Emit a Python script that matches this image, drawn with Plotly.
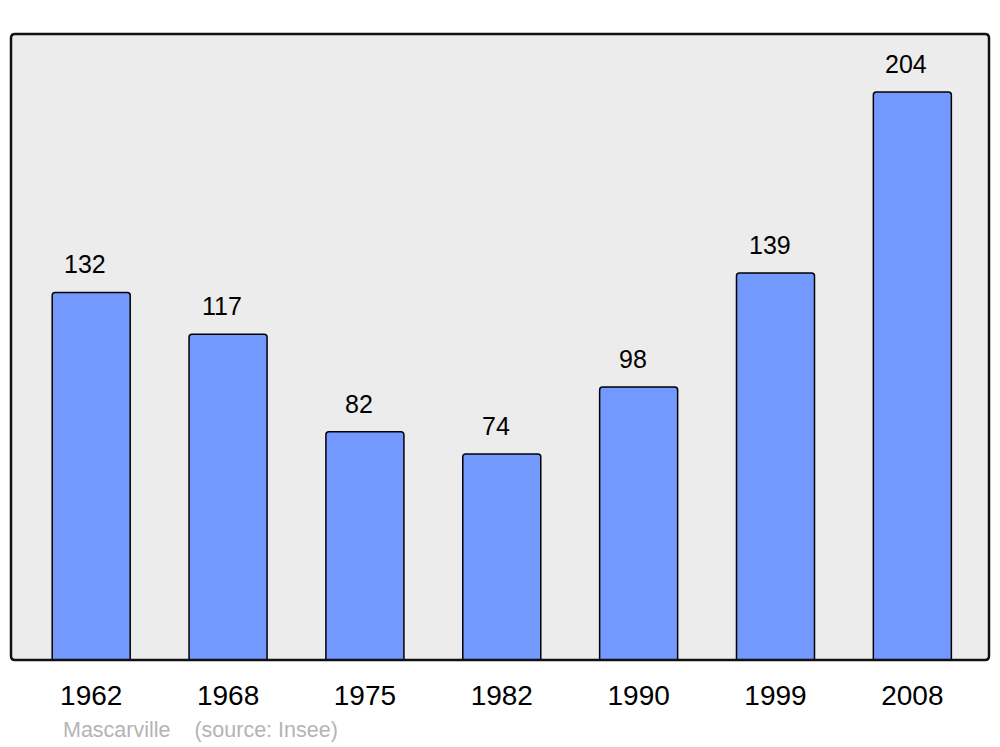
import plotly.graph_objects as go

years = ["1962", "1968", "1975", "1982", "1990", "1999", "2008"]
population = [132, 117, 82, 74, 98, 139, 204]
subtitle = "Mascarville    (source: Insee)"

W, H = 1000, 747
ML, MR, MT, MB = 11, 11, 34, 87
pw, ph = W - ML - MR, H - MT - MB

xs = list(range(len(years)))

fig = go.Figure()
fig.add_trace(go.Bar(
    x=xs, y=population, width=0.57,
    marker=dict(color="#7399ff", line=dict(color="#000000", width=1.5), cornerradius=3),
    hoverinfo="skip",
))

for x, v in zip(xs, population):
    fig.add_annotation(x=x, y=v, xref="x", yref="y", text=str(v), showarrow=False,
                       yshift=28, xshift=-6,
                       font=dict(family="Liberation Sans, Arial", size=25, color="#000"))

fig.add_annotation(x=(61 - ML) / pw, y=(H - MB - 730) / ph, xref="paper", yref="paper",
                   xanchor="left", yanchor="middle", text=subtitle, showarrow=False,
                   font=dict(family="Liberation Sans, Arial", size=21.5, color="#b4b4b4"))

# rounded frame around the plot area (paper coords)
rx, ry = 4 / pw, 4 / ph
path = (f"M {rx},0 L {1-rx},0 Q 1,0 1,{ry} L 1,{1-ry} Q 1,1 {1-rx},1 "
        f"L {rx},1 Q 0,1 0,{1-ry} L 0,{ry} Q 0,0 {rx},0 Z")
fig.add_shape(type="path", path=path, xref="paper", yref="paper",
              line=dict(color="#111111", width=2.5), layer="above")

fig.update_layout(
    width=W, height=H,
    margin=dict(l=ML, r=MR, t=MT, b=MB),
    paper_bgcolor="white", plot_bgcolor="#ececec",
    showlegend=False,
    font=dict(family="Liberation Sans, Arial", color="#000"),
    xaxis=dict(range=[-0.586, 6.560], tickvals=xs, ticktext=years,
               showgrid=False, zeroline=False, showline=False,
               ticks="", ticklabelstandoff=16,
               tickfont=dict(size=28, color="#000")),
    yaxis=dict(range=[0, 224.8], showgrid=False, zeroline=False, showline=False,
               showticklabels=False, ticks=""),
)

fig.write_html("out.html", config={"displayModeBar": False})
with open("out.html", "r", encoding="utf-8") as f:
    html = f.read()
html = html.replace("<head>", "<head><style>html,body{margin:0;padding:0;overflow:hidden;}</style>", 1)
with open("out.html", "w", encoding="utf-8") as f:
    f.write(html)
